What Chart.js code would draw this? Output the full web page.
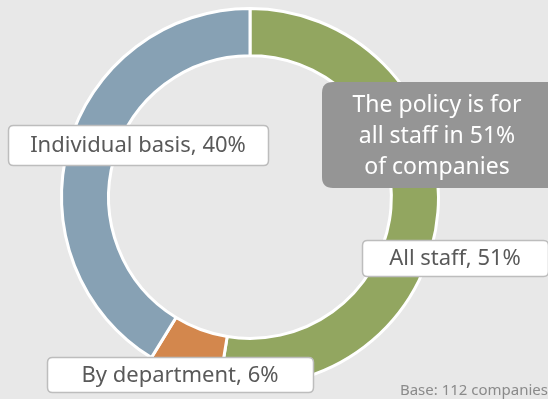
<!DOCTYPE html>
<html>
<head>
<meta charset="utf-8">
<script src="https://cdn.jsdelivr.net/npm/chart.js@4.4.1/dist/chart.umd.min.js"></script>
<style>
  html, body { margin: 0; padding: 0; background: #e8e8e8; }
  #wrap { width: 548px; height: 399px; position: relative; }
</style>
</head>
<body>
<div id="wrap"><canvas id="policy"></canvas></div>
<script>
// policy coverage, share of companies
var categories = ['All staff', 'By department', 'Individual basis'];
var shares = [51, 6, 40];
var sliceColors = ['#92a660', '#d3874d', '#87a1b4'];
var baseNote = 'Base: 112 companies';

var FONT = '"Noto Sans", sans-serif';

function roundRect(ctx, x, y, w, h, r) {
  ctx.beginPath();
  ctx.moveTo(x + r, y);
  ctx.lineTo(x + w - r, y);
  ctx.quadraticCurveTo(x + w, y, x + w, y + r);
  ctx.lineTo(x + w, y + h - r);
  ctx.quadraticCurveTo(x + w, y + h, x + w - r, y + h);
  ctx.lineTo(x + r, y + h);
  ctx.quadraticCurveTo(x, y + h, x, y + h - r);
  ctx.lineTo(x, y + r);
  ctx.quadraticCurveTo(x, y, x + r, y);
  ctx.closePath();
}

// label boxes placed beside the ring
var boxes = [
  { i: 0, x: 362, y: 240, w: 186, h: 36 },
  { i: 1, x: 47, y: 357, w: 266, h: 35 },
  { i: 2, x: 8, y: 125, w: 260, h: 40 }
];

var labelPlugin = {
  id: 'sliceLabels',
  afterDraw: function (chart) {
    var ctx = chart.ctx;
    ctx.save();
    boxes.forEach(function (b) {
      roundRect(ctx, b.x + 0.5, b.y + 0.5, b.w, b.h, 5);
      ctx.fillStyle = '#ffffff';
      ctx.fill();
      ctx.lineWidth = 1.5;
      ctx.strokeStyle = '#bdbdbd';
      ctx.stroke();
      ctx.fillStyle = '#595959';
      ctx.font = '22px ' + FONT;
      ctx.textAlign = 'center';
      ctx.textBaseline = 'middle';
      ctx.fillText(categories[b.i] + ', ' + shares[b.i] + '%', b.x + b.w / 2, b.y + b.h / 2 + 1);
    });

    // callout
    roundRect(ctx, 322, 82, 240, 106, 11);
    ctx.fillStyle = '#959595';
    ctx.fill();
    ctx.fillStyle = '#ffffff';
    ctx.font = '23px ' + FONT;
    ctx.textAlign = 'center';
    ctx.textBaseline = 'middle';
    var lines = ['The policy is for', 'all staff in ' + shares[0] + '%', 'of companies'];
    lines.forEach(function (t, k) {
      ctx.fillText(t, 437, 105 + k * 31);
    });

    ctx.fillStyle = '#8a8a8a';
    ctx.font = '15px ' + FONT;
    ctx.textAlign = 'right';
    ctx.textBaseline = 'alphabetic';
    ctx.fillText(baseNote, 548, 395);
    ctx.restore();
  }
};

new Chart(document.getElementById('policy'), {
  type: 'doughnut',
  data: {
    labels: categories,
    datasets: [{
      data: shares,
      backgroundColor: sliceColors,
      borderColor: '#ffffff',
      borderWidth: 3
    }]
  },
  options: {
    responsive: true,
    maintainAspectRatio: false,
    animation: false,
    cutout: '75%',
    layout: { padding: { left: 60, right: 108, top: 7, bottom: 12 } },
    plugins: {
      legend: { display: false },
      tooltip: { enabled: false }
    }
  },
  plugins: [labelPlugin]
});
</script>
</body>
</html>
